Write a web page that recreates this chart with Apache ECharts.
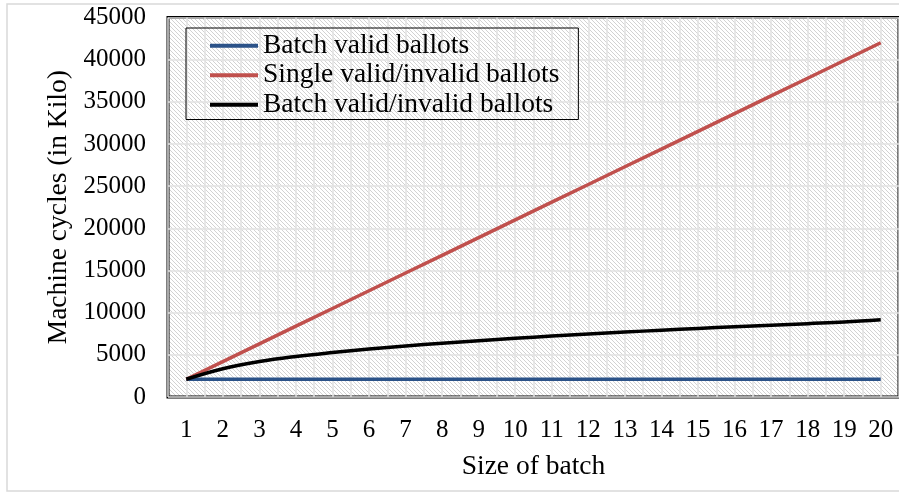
<!DOCTYPE html>
<html>
<head>
<meta charset="utf-8">
<script src="https://cdn.jsdelivr.net/npm/echarts@6/dist/echarts.min.js"></script>
<style>
  html, body { margin: 0; padding: 0; background: #fff; }
  #main { width: 899px; height: 493px; }
</style>
</head>
<body>
<div id="main"></div>
<script>
// batch sizes on the x axis
const batchSizes = ['1','2','3','4','5','6','7','8','9','10','11','12','13','14','15','16','17','18','19','20'];

// machine cycles (in Kilo)
const batchValid = [2100,2100,2100,2100,2100,2100,2100,2100,2100,2100,2100,2100,2100,2100,2100,2100,2100,2100,2100,2100];
const singleValidInvalid = [2100,4200,6300,8400,10500,12600,14700,16800,18900,21000,23100,25200,27300,29400,31500,33600,35700,37800,39900,42000];
const batchValidInvalid = [2100,3350,4200,4800,5270,5680,6050,6380,6680,6960,7220,7470,7700,7920,8130,8330,8520,8700,8880,9150];

const seriesNames = ['Batch valid ballots', 'Single valid/invalid ballots', 'Batch valid/invalid ballots'];
const seriesColors = ['#2B5288', '#C0504D', '#000000'];

const serif = '"Liberation Serif", "DejaVu Serif", serif';

// diagonal hatch used as plot background
function makeHatch() {
  const c = document.createElement('canvas');
  c.width = 4;
  c.height = 4;
  const ctx = c.getContext('2d');
  ctx.fillStyle = '#ffffff';
  ctx.fillRect(0, 0, 4, 4);
  ctx.strokeStyle = '#d2d2d2';
  ctx.lineWidth = 1;
  ctx.beginPath();
  ctx.moveTo(-1, -1); ctx.lineTo(5, 5);
  ctx.moveTo(-1, 3); ctx.lineTo(1, 5);
  ctx.moveTo(3, -1); ctx.lineTo(5, 1);
  ctx.stroke();
  return c;
}

var myChart = echarts.init(document.getElementById('main'));

const option = {
  animation: false,
  backgroundColor: '#fff',
  graphic: [{
    type: 'rect',
    shape: { x: 7, y: 4, width: 900, height: 487 },
    style: { fill: 'none', stroke: '#d9d9d9', lineWidth: 1.5 },
    silent: true,
    z: -10
  }],
  grid: {
    left: 168,
    top: 17.5,
    right: -3,
    bottom: 96,
    show: true,
    borderColor: '#000',
    borderWidth: 3,
    backgroundColor: { image: makeHatch(), repeat: 'repeat' }
  },
  legend: {
    orient: 'vertical',
    left: 186,
    top: 28,
    padding: [3, 19, 0, 24],
    itemGap: 0,
    itemWidth: 48,
    itemHeight: 4,
    icon: 'rect',
    borderColor: '#000',
    borderWidth: 1,
    textStyle: { fontFamily: serif, fontSize: 27.5, color: '#000', lineHeight: 29.5 },
    data: seriesNames
  },
  xAxis: [{
    type: 'category',
    data: batchSizes,
    boundaryGap: true,
    name: 'Size of batch',
    nameLocation: 'middle',
    nameGap: 56,
    nameTextStyle: { fontFamily: serif, fontSize: 27.5, color: '#000' },
    axisLine: { show: false },
    axisTick: { show: false },
    axisLabel: { fontFamily: serif, fontSize: 25, color: '#000', margin: 21 },
    splitLine: { show: false }
  }, {
    // hidden helper axis, only for the vertical grid lines
    type: 'value',
    position: 'bottom',
    min: 0.5,
    max: 20.5,
    interval: 0.5,
    axisLine: { show: false },
    axisTick: { show: false },
    axisLabel: { show: false },
    splitLine: { show: true, lineStyle: { color: '#e2e2e2', width: 1.5 } }
  }],
  yAxis: {
    type: 'value',
    min: 0,
    max: 45000,
    interval: 5000,
    name: 'Machine cycles (in Kilo)',
    nameLocation: 'middle',
    nameGap: 84,
    nameTextStyle: { fontFamily: serif, fontSize: 27.5, color: '#000' },
    axisLine: { show: false },
    axisTick: { show: false },
    axisLabel: {
      fontFamily: serif, fontSize: 25, color: '#000', margin: 22,
      formatter: function (v) { return String(v); }
    },
    splitLine: { show: true, lineStyle: { color: '#e2e2e2', width: 1.5 } }
  },
  series: [
    {
      name: seriesNames[0],
      type: 'line',
      data: batchValid,
      symbol: 'none',
      lineStyle: { color: seriesColors[0], width: 3.5 },
      itemStyle: { color: seriesColors[0] }
    },
    {
      name: seriesNames[1],
      type: 'line',
      data: singleValidInvalid,
      symbol: 'none',
      lineStyle: { color: seriesColors[1], width: 3.5 },
      itemStyle: { color: seriesColors[1] }
    },
    {
      name: seriesNames[2],
      type: 'line',
      data: batchValidInvalid,
      symbol: 'none',
      smooth: 0.4,
      lineStyle: { color: seriesColors[2], width: 3.5 },
      itemStyle: { color: seriesColors[2] }
    }
  ]
};

myChart.setOption(option);
</script>
</body>
</html>
